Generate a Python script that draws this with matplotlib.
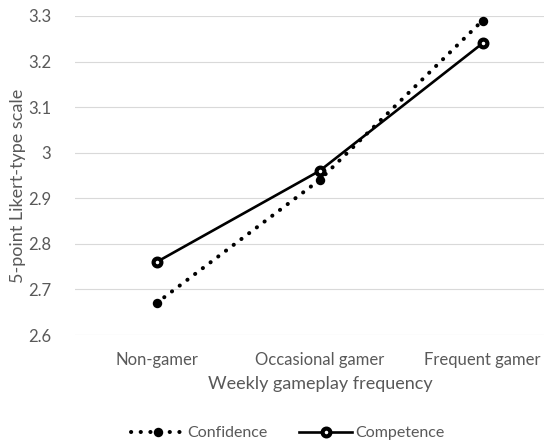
import matplotlib
matplotlib.use("Agg")
import matplotlib.pyplot as plt

categories = ["Non-gamer", "Occasional gamer", "Frequent gamer"]
confidence = [2.67, 2.94, 3.29]
competence = [2.76, 2.96, 3.24]
yticks = [2.6, 2.7, 2.8, 2.9, 3.0, 3.1, 3.2, 3.3]
ytick_labels = ["2.6", "2.7", "2.8", "2.9", "3", "3.1", "3.2", "3.3"]

plt.rcParams['font.family'] = ['Lato', 'DejaVu Sans']
grey = "#595959"

fig = plt.figure(figsize=(5.44, 4.47), dpi=100)
ax = fig.add_axes([75/544, 1-335/447, 489/544, (335-16)/447])
x = list(range(len(categories)))

ax.plot(x, confidence, color="black", lw=2.9, linestyle=(0, (0.05, 2.35)),
        dash_capstyle="round", marker="o", markersize=6.8, markerfacecolor="black",
        markeredgewidth=0, label="Confidence", zorder=3)
ax.plot(x, competence, color="black", lw=1.9, linestyle="-",
        marker="o", markersize=5.6, markerfacecolor="white", markeredgewidth=3.0,
        markeredgecolor="black", label="Competence", zorder=4)

ax.set_xlim(-0.5, 2.5)
ax.set_ylim(2.6, 3.3)
ax.set_yticks(yticks)
ax.set_yticklabels(ytick_labels)
ax.set_xticks(x)
ax.set_xticklabels(categories)
ax.grid(axis="y", color="#d9d9d9", lw=0.8)
ax.set_axisbelow(True)
for s in ax.spines.values():
    s.set_visible(False)
ax.tick_params(axis="both", length=0, colors=grey, labelsize=12)
ax.tick_params(axis="y", pad=17)
ax.tick_params(axis="x", pad=12)
ax.set_xlabel("Weekly gameplay frequency", color=grey, fontsize=13)
ax.xaxis.set_label_coords((320-75)/489, (335-376)/319)
ax.set_ylabel("5-point Likert-type scale", color=grey, fontsize=13)
ax.yaxis.set_label_coords((26-75)/489, (335-186)/319)

fig.legend(handles=ax.get_lines(), loc="center", bbox_to_anchor=(288/544, 1-433/447),
           ncol=2, frameon=False, fontsize=11.5, labelcolor=grey, handlelength=3.3,
           handletextpad=0.2, columnspacing=2.0)

fig.savefig("out.png", dpi=100)
